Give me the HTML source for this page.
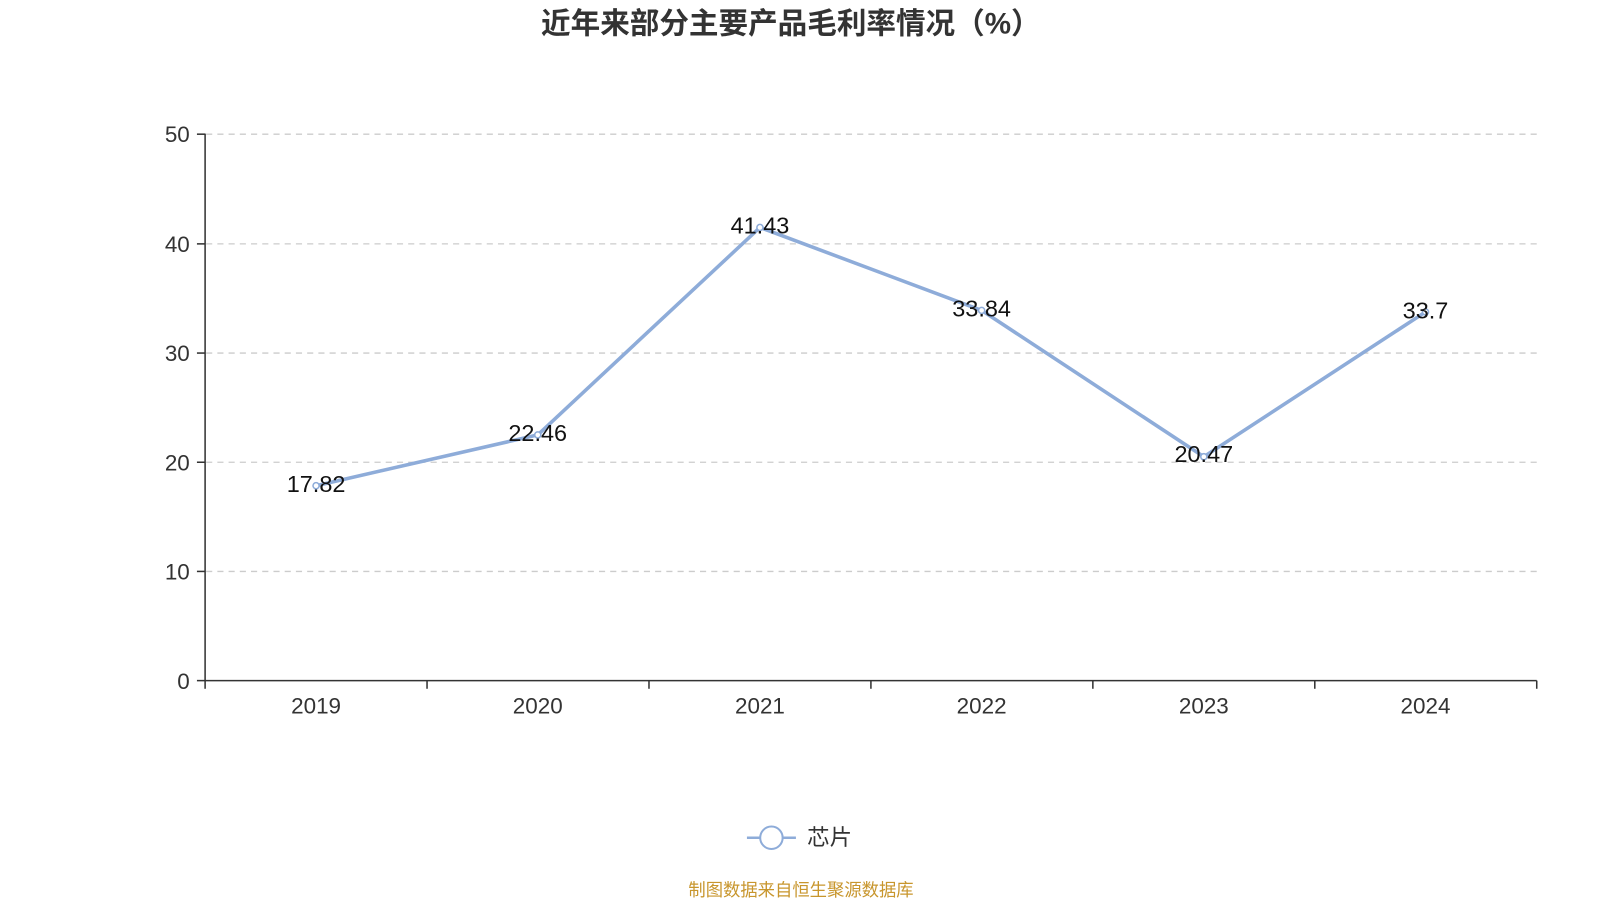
<!DOCTYPE html>
<html><head><meta charset="utf-8"><style>
html,body{margin:0;padding:0;background:#fff;}
svg{display:block;font-family:"Liberation Sans","Noto Sans CJK SC",sans-serif;}
</style></head><body>
<svg width="1600" height="900" viewBox="0 0 1568 882" xmlns="http://www.w3.org/2000/svg">
<text x="775" y="33" text-anchor="middle" font-size="29" font-weight="bold" fill="#333">近年来部分主要产品毛利率情况（%）</text>
<g stroke="#ccc" stroke-dasharray="6,5" stroke-width="1.3">
<line x1="202" y1="131.5" x2="1506" y2="131.5"/>
<line x1="202" y1="239" x2="1506" y2="239"/>
<line x1="202" y1="346" x2="1506" y2="346"/>
<line x1="202" y1="453" x2="1506" y2="453"/>
<line x1="202" y1="560" x2="1506" y2="560"/>
</g>
<g stroke="#333" stroke-width="1.5">
<line x1="201" y1="131" x2="201" y2="667"/>
<line x1="201" y1="667" x2="1506" y2="667"/>
<line x1="193" y1="131.5" x2="201" y2="131.5"/>
<line x1="193" y1="239" x2="201" y2="239"/>
<line x1="193" y1="346" x2="201" y2="346"/>
<line x1="193" y1="453" x2="201" y2="453"/>
<line x1="193" y1="560" x2="201" y2="560"/>
<line x1="193" y1="667" x2="201" y2="667"/>
<line x1="201" y1="667" x2="201" y2="675"/>
<line x1="418.5" y1="667" x2="418.5" y2="675"/>
<line x1="636" y1="667" x2="636" y2="675"/>
<line x1="853.5" y1="667" x2="853.5" y2="675"/>
<line x1="1071" y1="667" x2="1071" y2="675"/>
<line x1="1288.5" y1="667" x2="1288.5" y2="675"/>
<line x1="1506" y1="667" x2="1506" y2="675"/>
</g>
<g font-size="22" fill="#333" text-anchor="end">
<text x="186" y="139">50</text><text x="186" y="247">40</text><text x="186" y="354">30</text>
<text x="186" y="461">20</text><text x="186" y="568">10</text><text x="186" y="675">0</text>
</g>
<g font-size="22" fill="#333" text-anchor="middle">
<text x="309.75" y="699">2019</text><text x="527" y="699">2020</text><text x="744.75" y="699">2021</text>
<text x="962" y="699">2022</text><text x="1179.75" y="699">2023</text><text x="1397" y="699">2024</text>
</g>
<polyline fill="none" stroke="#8eacd9" stroke-width="3.5" stroke-linejoin="round" points="309.75,476 527,426.2 744.75,222.9 962,304.2 1179.75,447.6 1397,305.7"/>
<g fill="#fff" stroke="#8eacd9" stroke-width="1.5">
<circle cx="309.75" cy="476" r="3"/><circle cx="527" cy="426.2" r="3"/><circle cx="744.75" cy="222.9" r="3"/>
<circle cx="962" cy="304.2" r="3"/><circle cx="1179.75" cy="447.6" r="3"/><circle cx="1397" cy="305.7" r="3"/>
</g>
<g font-size="23" fill="#111" text-anchor="middle">
<text x="309.75" y="482">17.82</text><text x="527" y="432">22.46</text><text x="744.75" y="229">41.43</text>
<text x="962" y="310">33.84</text><text x="1179.75" y="453">20.47</text><text x="1397" y="312">33.7</text>
</g>
<line x1="732" y1="821" x2="780" y2="821" stroke="#8eacd9" stroke-width="2.5"/>
<circle cx="756" cy="821" r="11" fill="#fff" stroke="#8eacd9" stroke-width="2"/>
<text x="791" y="828" font-size="22" fill="#333">芯片</text>
<text x="785" y="878" font-size="17" fill="#c8962d" text-anchor="middle">制图数据来自恒生聚源数据库</text>
</svg>
</body></html>
